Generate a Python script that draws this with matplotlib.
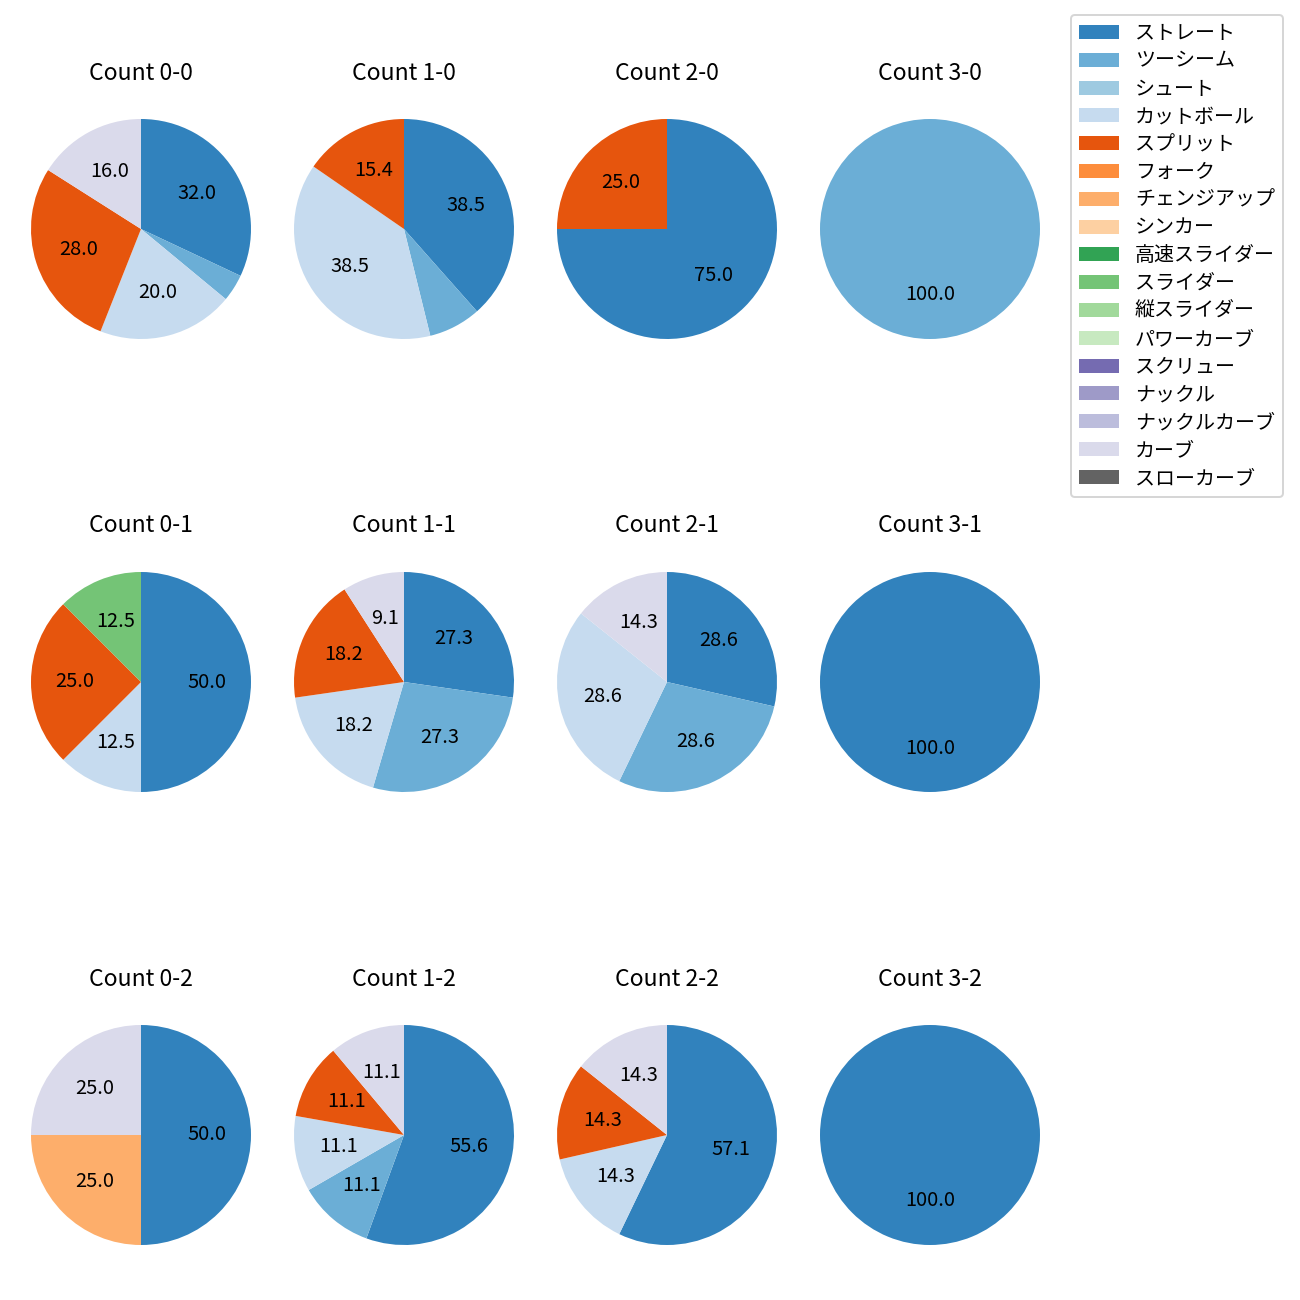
import matplotlib
matplotlib.use('Agg')
import matplotlib.pyplot as plt
from matplotlib.patches import Patch

plt.rcParams['font.family'] = ['Noto Sans CJK JP', 'DejaVu Sans']

# pitch types and colors (legend order)
pitches = ['ストレート', 'ツーシーム', 'シュート', 'カットボール', 'スプリット', 'フォーク',
           'チェンジアップ', 'シンカー', '高速スライダー', 'スライダー', '縦スライダー',
           'パワーカーブ', 'スクリュー', 'ナックル', 'ナックルカーブ', 'カーブ', 'スローカーブ']
cmap = plt.get_cmap('tab20c')
colors = [cmap(i) for i in range(16)] + ['#636363']

# number of pitches per ball-strike count
counts = {
    '0-0': {'ストレート': 8, 'ツーシーム': 1, 'カットボール': 5, 'スプリット': 7, 'カーブ': 4},
    '1-0': {'ストレート': 5, 'ツーシーム': 1, 'カットボール': 5, 'スプリット': 2},
    '2-0': {'ストレート': 3, 'スプリット': 1},
    '3-0': {'ツーシーム': 1},
    '0-1': {'ストレート': 4, 'カットボール': 1, 'スプリット': 2, 'スライダー': 1},
    '1-1': {'ストレート': 3, 'ツーシーム': 3, 'カットボール': 2, 'スプリット': 2, 'カーブ': 1},
    '2-1': {'ストレート': 2, 'ツーシーム': 2, 'カットボール': 2, 'カーブ': 1},
    '3-1': {'ストレート': 1},
    '0-2': {'ストレート': 2, 'チェンジアップ': 1, 'カーブ': 1},
    '1-2': {'ストレート': 5, 'ツーシーム': 1, 'カットボール': 1, 'スプリット': 1, 'カーブ': 1},
    '2-2': {'ストレート': 4, 'カットボール': 1, 'スプリット': 1, 'カーブ': 1},
    '3-2': {'ストレート': 1},
}
balls = [0, 1, 2, 3]
strikes = [0, 1, 2]

DPI = 144
W = H = 1300.0
fig = plt.figure(figsize=(W / DPI, H / DPI), dpi=DPI)
size = 275.0
xc = [141, 404, 667, 930]
yc = [229, 682, 1135]

def fmt(p):
    return f'{p:.1f}' if p >= 8 else ''

for r, s in enumerate(strikes):
    for c, b in enumerate(balls):
        ax = fig.add_axes([(xc[c] - size / 2) / W, 1 - (yc[r] + size / 2) / H, size / W, size / H])
        d = counts[f'{b}-{s}']
        names = [p for p in pitches if p in d]
        vals = [d[p] for p in names]
        cols = [colors[pitches.index(p)] for p in names]
        ax.pie(vals, colors=cols, startangle=90, counterclock=False,
               autopct=fmt, textprops={'fontsize': 10})
        ax.set_title(f'Count {b}-{s}', fontsize=11.5)

handles = [Patch(facecolor=colors[i], label=p) for i, p in enumerate(pitches)]
fig.legend(handles=handles, loc='upper right', bbox_to_anchor=(1283 / W, 1 - 15 / H),
           borderaxespad=0, labelspacing=0.34, fontsize=10)

fig.savefig('out.png', dpi=DPI)
